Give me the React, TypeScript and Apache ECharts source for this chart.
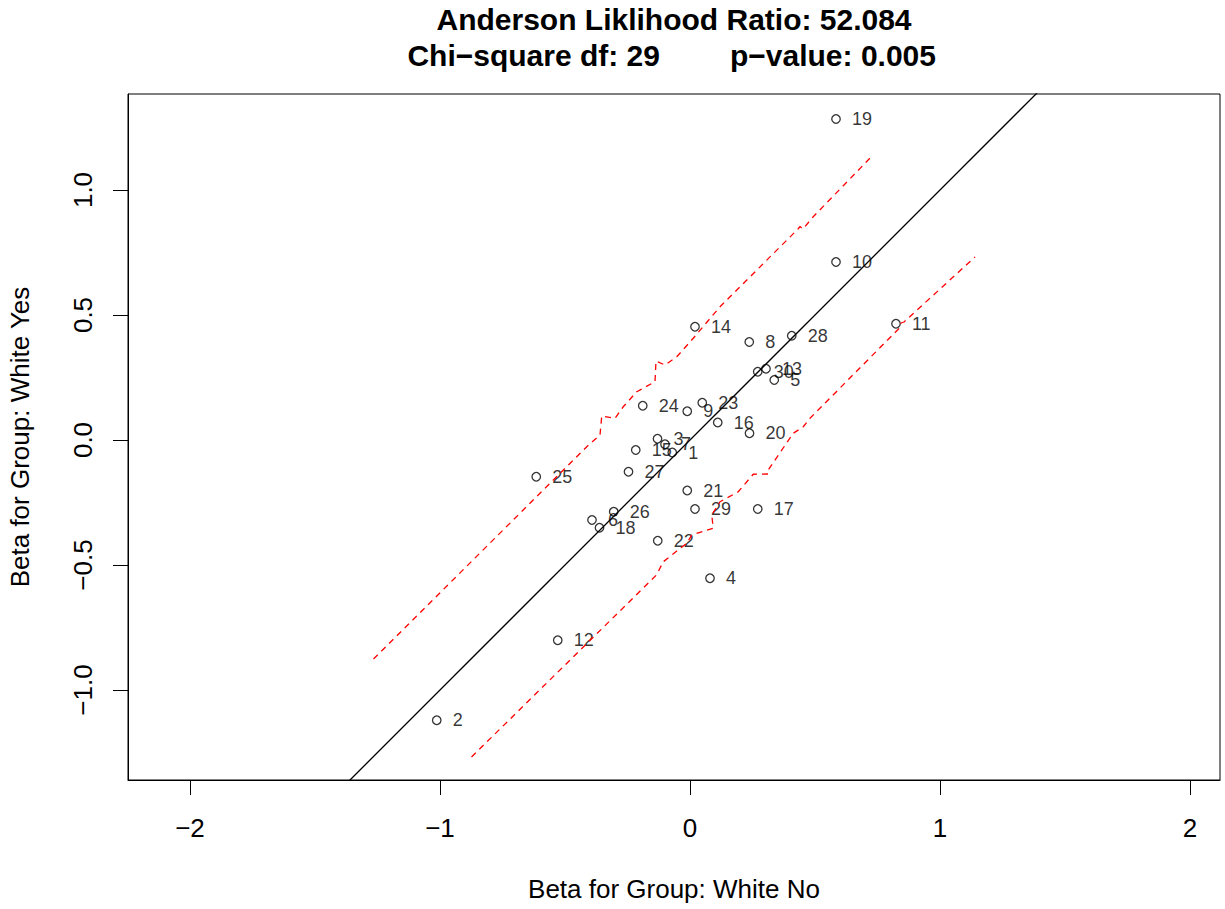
import React, { useEffect, useRef } from "react";
import * as echarts from "echarts";

const titleLine1 = "Anderson Liklihood Ratio: 52.084";
const titleLine2Left = "Chi\u2212square df: 29";
const titleLine2Right = "p\u2212value: 0.005";
const xAxisName = "Beta for Group: White No";
const yAxisName = "Beta for Group: White Yes";

const xTicks = [-2, -1, 0, 1, 2];
const yTicks = [-1, -0.5, 0, 0.5, 1];

const itemIds = [
  1, 2, 3, 4, 5, 6, 7, 8, 9, 10, 11, 12, 13, 14, 15, 16, 17, 18, 19, 20, 21, 22, 23, 24, 25, 26, 27, 28, 29, 30,
];
const betaNo = [
  -0.071, -1.013, -0.13, 0.08, 0.337, -0.392, -0.1, 0.237, -0.011, 0.584, 0.824, -0.529, 0.304, 0.02, -0.217,
  0.111, 0.271, -0.362, 0.584, 0.238, -0.011, -0.129, 0.049, -0.189, -0.615, -0.305, -0.246, 0.407, 0.02, 0.271,
];
const betaYes = [
  -0.05, -1.121, 0.005, -0.553, 0.24, -0.32, -0.017, 0.392, 0.115, 0.712, 0.465, -0.801, 0.285, 0.453, -0.04,
  0.07, -0.276, -0.351, 1.284, 0.027, -0.202, -0.403, 0.149, 0.137, -0.147, -0.287, -0.127, 0.417, -0.276, 0.273,
];

const upperBandX = [
  -1.266, -0.413, -0.36, -0.353, -0.3, -0.267, -0.213, -0.14, -0.136, -0.1, -0.053, 0.013, 0.12, 0.432, 0.44,
  0.452, 0.493, 0.732,
];
const upperBandY = [
  -0.876, -0.027, 0.02, 0.096, 0.087, 0.133, 0.193, 0.233, 0.316, 0.3, 0.333, 0.407, 0.533, 0.844, 0.854, 0.844,
  0.893, 1.14,
];
const lowerBandX = [
  -0.874, -0.134, -0.107, -0.013, 0.007, 0.093, 0.087, 0.12, 0.193, 0.253, 0.313, 0.313, 0.413, 0.453, 0.48,
  0.836, 0.844, 0.856, 1.14,
];
const lowerBandY = [
  -1.268, -0.54, -0.487, -0.413, -0.38, -0.353, -0.3, -0.247, -0.207, -0.137, -0.136, -0.12, 0.027, 0.053, 0.087,
  0.446, 0.468, 0.472, 0.732,
];

const identityLine = [-2.5, 2.5];

const FONT = '"Liberation Sans", Arial, Helvetica, sans-serif';

const fmt = (v: number, digits: number) => v.toFixed(digits).replace("-", "\u2212");

export default function App() {
  const ref = useRef<HTMLDivElement>(null);

  useEffect(() => {
    if (!ref.current) return;
    const chart = echarts.init(ref.current, null, { renderer: "svg" });

    const option = {
      animation: false,
      backgroundColor: "#ffffff",
      textStyle: { fontFamily: FONT },
      grid: {
        left: 128,
        top: 94,
        width: 1092,
        height: 686,
        show: true,
        borderColor: "#000",
        borderWidth: 1,
        backgroundColor: "transparent",
      },
      xAxis: {
        type: "value",
        min: -2.248,
        max: 2.12,
        axisLine: { show: true, onZero: false, lineStyle: { color: "#000", width: 1 } },
        axisTick: { show: true, customValues: xTicks, length: 15, lineStyle: { color: "#000", width: 1 } },
        axisLabel: {
          customValues: xTicks,
          formatter: (v: number) => fmt(v, 0),
          fontSize: 26,
          margin: 35,
          color: "#000",
          fontFamily: FONT,
        },
        splitLine: { show: false },
      },
      yAxis: {
        type: "value",
        min: -1.36,
        max: 1.384,
        axisLine: { show: true, onZero: false, lineStyle: { color: "#000", width: 1 } },
        axisTick: { show: true, customValues: yTicks, length: 15, lineStyle: { color: "#000", width: 1 } },
        axisLabel: {
          customValues: yTicks,
          formatter: (v: number) => fmt(v, 1),
          fontSize: 26,
          margin: 32,
          rotate: 90,
          color: "#000",
          fontFamily: FONT,
        },
        splitLine: { show: false },
      },
      graphic: [
        {
          type: "text",
          x: 674,
          y: 19,
          style: {
            text: titleLine1,
            font: `bold 30px ${FONT}`,
            fill: "#000",
            textAlign: "center",
            textVerticalAlign: "middle",
          },
        },
        {
          type: "text",
          x: 660,
          y: 55,
          style: {
            text: titleLine2Left,
            font: `bold 30px ${FONT}`,
            fill: "#000",
            textAlign: "right",
            textVerticalAlign: "middle",
          },
        },
        {
          type: "text",
          x: 730,
          y: 55,
          style: {
            text: titleLine2Right,
            font: `bold 30px ${FONT}`,
            fill: "#000",
            textAlign: "left",
            textVerticalAlign: "middle",
          },
        },
        {
          type: "text",
          x: 674,
          y: 889,
          style: {
            text: xAxisName,
            font: `26px ${FONT}`,
            fill: "#000",
            textAlign: "center",
            textVerticalAlign: "middle",
          },
        },
        {
          type: "text",
          x: 20,
          y: 437,
          rotation: Math.PI / 2,
          style: {
            text: yAxisName,
            font: `26px ${FONT}`,
            fill: "#000",
            textAlign: "center",
            textVerticalAlign: "middle",
          },
        },
      ],
      series: [
        {
          type: "line",
          data: identityLine.map((v) => [v, v]),
          symbol: "none",
          clip: true,
          lineStyle: { color: "#000", width: 1.3 },
          silent: true,
        },
        {
          type: "line",
          data: upperBandX.map((x, i) => [x, upperBandY[i]]),
          symbol: "none",
          clip: true,
          lineStyle: { color: "#ff0000", width: 1.3, type: [6, 5] },
          silent: true,
        },
        {
          type: "line",
          data: lowerBandX.map((x, i) => [x, lowerBandY[i]]),
          symbol: "none",
          clip: true,
          lineStyle: { color: "#ff0000", width: 1.3, type: [6, 5] },
          silent: true,
        },
        {
          type: "scatter",
          data: itemIds.map((id, i) => ({ value: [betaNo[i], betaYes[i]], name: String(id) })),
          symbol: "circle",
          symbolSize: 8.5,
          itemStyle: { color: "rgba(0,0,0,0)", borderColor: "#000", borderWidth: 1.3 },
          label: {
            show: true,
            position: "right",
            distance: 11,
            formatter: "{b}",
            fontSize: 18,
            color: "#000",
            fontFamily: FONT,
          },
          emphasis: { disabled: true },
        },
      ],
    };

    chart.setOption(option as any);
    return () => chart.dispose();
  }, []);

  return (
    <div
      ref={ref}
      style={{ position: "fixed", left: 0, top: 0, width: 1225, height: 909, background: "#fff" }}
    />
  );
}
